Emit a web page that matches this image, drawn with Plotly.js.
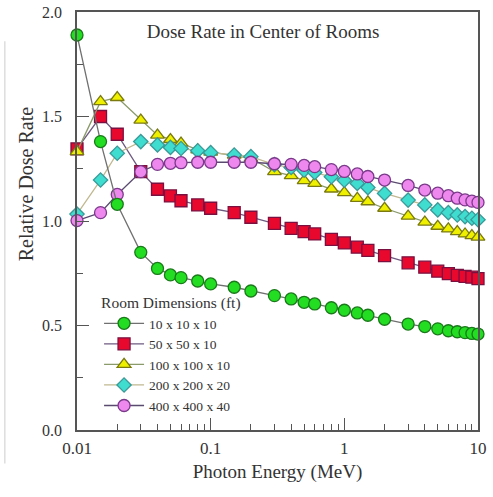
<!DOCTYPE html>
<html>
<head>
<meta charset="utf-8">
<script src="https://cdn.plot.ly/plotly-3.0.1.min.js"></script>
<style>html,body{margin:0;padding:0;background:#fff;}#chart{width:493px;height:497px;}</style>
</head>
<body>
<div id="chart"></div>
<script>
const energy = [0.01,0.015,0.02,0.03,0.04,0.05,0.06,0.08,0.1,0.15,0.2,0.3,0.4,0.5,0.6,0.8,1,1.25,1.5,2,3,4,5,6,7,8,9,10];
const room10 = [1.89,1.38,1.08,0.85,0.773,0.742,0.729,0.713,0.699,0.683,0.665,0.643,0.627,0.611,0.603,0.585,0.573,0.56,0.549,0.53,0.507,0.495,0.484,0.475,0.47,0.466,0.462,0.459];
const room50 = [1.345,1.50,1.415,1.236,1.152,1.120,1.097,1.077,1.061,1.040,1.018,0.989,0.965,0.949,0.938,0.912,0.895,0.875,0.859,0.834,0.8,0.779,0.76,0.748,0.74,0.735,0.731,0.724];
const room100 = [1.332,1.571,1.591,1.483,1.411,1.39,1.373,1.34,1.33,1.315,1.30,1.236,1.217,1.193,1.180,1.153,1.136,1.108,1.092,1.061,1.023,0.995,0.975,0.962,0.949,0.938,0.93,0.923];
const room200 = [1.033,1.196,1.324,1.380,1.364,1.352,1.347,1.336,1.327,1.316,1.308,1.27,1.256,1.243,1.232,1.212,1.195,1.18,1.16,1.132,1.1,1.077,1.053,1.04,1.029,1.021,1.013,1.006];
const room400 = [1.002,1.04,1.127,1.236,1.271,1.276,1.279,1.281,1.281,1.281,1.281,1.274,1.271,1.266,1.260,1.246,1.237,1.225,1.213,1.196,1.17,1.148,1.133,1.121,1.109,1.101,1.095,1.089];
const seriesNames = ['10 x 10 x 10','50 x 50 x 10','100 x 100 x 10','200 x 200 x 20','400 x 400 x 40'];
const xTickVals = [0.01,0.1,1,10];
const xTickText = ['0.01','0.1','1','10'];
const yTickVals = [0,0.5,1,1.5,2];
const yTickText = ['0.0','0.5','1.0','1.5','2.0'];

const serif = 'Liberation Serif, Times New Roman, serif';
function tr(y, name, sym, size, fill, edge, line, rank){
  return {x: energy, y: y, name: name, type:'scatter', mode:'lines+markers', cliponaxis:false,
    legendrank: rank,
    line:{color:line, width:1.3},
    marker:{symbol:sym, size:size, color:fill, line:{color:edge, width:1.3}}};
}
const data = [
  tr(room50, seriesNames[1], 'square', 12, '#e8082e', '#7a1040', '#6e5a80', 2),
  tr(room100, seriesNames[2], 'triangle-up', 12, '#eef000', '#7a7a10', '#8a9a6a', 3),
  tr(room200, seriesNames[3], 'diamond', 11, '#3fdcd0', '#3a9a98', '#c0b890', 4),
  tr(room400, seriesNames[4], 'circle', 12, '#ee88ee', '#7a3a8a', '#5a4a70', 5),
  tr(room10, seriesNames[0], 'circle', 12, '#22dd22', '#1a7a1a', '#707070', 1)
];
const minorX = [];
[0.01,0.1,1].forEach(d=>{for(let k=2;k<=9;k++) minorX.push(d*k);});
const layout = {
  width:493, height:497,
  margin:{l:77, r:15, t:12, b:67},
  paper_bgcolor:'#fff', plot_bgcolor:'#fff',
  font:{family:serif, color:'#333'},
  showlegend:true,
  title:{text:'Dose Rate in Center of Rooms', font:{family:serif, size:19, color:'#333'},
    xref:'paper', x:0.464, xanchor:'center', yref:'container', y:0.936, yanchor:'middle'},
  xaxis:{type:'log', range:[-2,1], tickmode:'array', tickvals:xTickVals, ticktext:xTickText,
    ticks:'inside', ticklen:12, tickwidth:1.2, tickcolor:'#555', ticklabelstandoff:2,
    showline:true, linecolor:'#555', linewidth:1.5, mirror:true, showgrid:false, zeroline:false,
    tickfont:{family:serif, size:17, color:'#333'},
    minor:{tickmode:'array', tickvals:minorX, ticks:'inside', ticklen:6, tickwidth:1.2, tickcolor:'#555', showgrid:false},
    title:{text:'Photon Energy (MeV)', font:{family:serif, size:19, color:'#333'}, standoff:8}},
  yaxis:{range:[0,2], tickmode:'array', tickvals:yTickVals, ticktext:yTickText,
    ticks:'inside', ticklen:12, tickwidth:1.2, tickcolor:'#555', ticklabelstandoff:10,
    showline:true, linecolor:'#555', linewidth:1.5, mirror:true, showgrid:false, zeroline:false,
    tickfont:{family:serif, size:16, color:'#333'},
    minor:{tickmode:'array', tickvals:[0.25,0.75,1.25,1.75], ticks:'inside', ticklen:6, tickwidth:1.2, tickcolor:'#555', showgrid:false}},
  legend:{x:0.055, y:0.34, xanchor:'left', yanchor:'top', bgcolor:'rgba(0,0,0,0)', itemwidth:40,
    font:{family:serif, size:13.5, color:'#333'}, tracegroupgap:0,
    title:{text:'Room Dimensions (ft)', font:{family:serif, size:15.5, color:'#333'}, side:'top'}},
  annotations:[{text:'Relative Dose Rate', xref:'paper', yref:'paper', x:-0.125, y:0.59,
    xanchor:'center', yanchor:'middle', textangle:-90, showarrow:false,
    font:{family:serif, size:20, color:'#333'}}],
  shapes:[{type:'line', xref:'paper', yref:'paper', x0:-0.18, x1:-0.18, y0:-0.08, y1:0.93,
    line:{color:'#ddd', width:1.5}}]
};
Plotly.newPlot('chart', data, layout, {displayModeBar:false, responsive:false});
</script>
</body>
</html>
